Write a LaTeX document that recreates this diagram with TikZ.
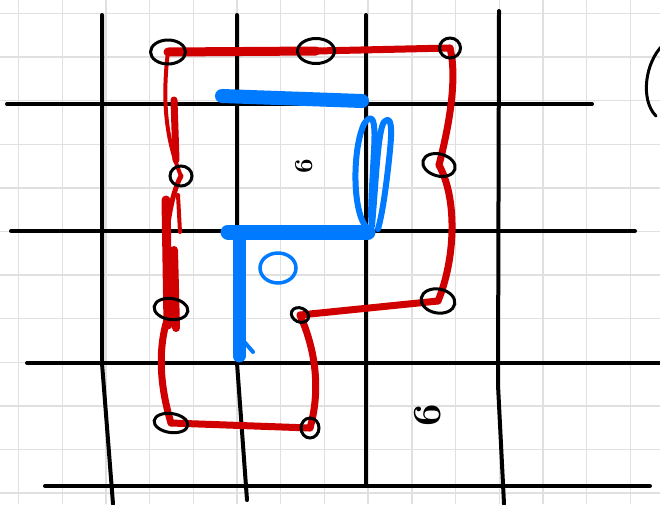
\documentclass[tikz,border=0pt]{standalone}
\usetikzlibrary{shapes.geometric}
\definecolor{penred}{RGB}{208,0,0}
\definecolor{penblue}{RGB}{0,122,255}
\definecolor{paper}{RGB}{224,224,224}
\begin{document}
\begin{tikzpicture}[x=1pt,y=-1pt,
  ring/.style={draw,ellipse,line width=3pt,inner sep=0pt},
  redpen/.style={penred,line width=7pt,line cap=round,line join=round},
  bluepen/.style={penblue,line width=13pt,line cap=round,line join=round},
  ink/.style={line width=4pt,line cap=round,line join=round}]
\useasboundingbox[fill=white] (0,0) rectangle (660,504);
% squared paper
\foreach \i in {0,...,14}
  \draw[paper,line width=1.4pt] ({18.5+43.7*\i},0) -- ++(0,504);
\foreach \j in {0,...,11}
  \draw[paper,line width=1.4pt] (0,{13.5+43.6*\j}) -- ++(660,0);
% hand drawn grid
\draw[ink] (102,15) -- (102,363) -- (113,504);
\draw[ink] (237,15) -- (237,363) -- (247,500);
\draw[ink] (366,15) -- (366,486);
\draw[ink] (499,11) -- (498,385) -- (504,504);
\draw[ink] (7,104) -- (592,104);
\draw[ink] (11,231) -- (635,231);
\draw[ink] (27,363) -- (664,363);
\draw[ink] (45,486) -- (650,486);
\draw[ink,line width=3pt] (663,45) .. controls (645,62) and (640,100) .. (656,116);
% loop points
\coordinate (tl) at (168,52);
\coordinate (tm) at (316,51);
\coordinate (tr) at (450,48);
\coordinate (rm) at (439,165);
\coordinate (rl) at (438,301);
\coordinate (ml) at (300,315);
\coordinate (bm) at (310,428);
\coordinate (bl) at (171,423);
\coordinate (lm) at (171,309);
\coordinate (lu) at (181,176);
% red route
\draw[redpen,line width=9pt] (tl) -- (tm);
\draw[redpen] (tm) -- (tr);
\draw[redpen] (tr) .. controls (458,80) and (448,130) .. (rm);
\draw[redpen] (rm) .. controls (458,200) and (455,260) .. (rl);
\draw[redpen] (rl) -- (ml);
\draw[redpen] (ml) .. controls (320,360) and (318,400) .. (bm);
\draw[redpen] (bm) -- (bl);
\draw[redpen] (bl) .. controls (158,380) and (158,340) .. (lm);
\draw[redpen,line width=5pt] (lm) .. controls (160,260) and (168,200) .. (lu);
\draw[redpen,line width=9pt] (166,200) -- (168,325);
\draw[redpen,line width=8pt] (174,250) -- (176,328);
\draw[redpen,line width=4pt] (178,195) -- (180,232);
\draw[redpen,line width=4pt] (lu) .. controls (166,140) and (162,100) .. (tl);
\draw[redpen,line width=7pt] (174,100) -- (176,160);
% blue strokes
\draw[bluepen,line width=14pt] (222,96) -- (362,101);
\draw[bluepen,line width=6pt] (368,229) .. controls (352,215) and (352,150) .. (364,124)
  .. controls (372,112) and (376,118) .. (374,150) .. controls (372,190) and (370,215) .. (372,226)
  .. controls (376,180) and (378,130) .. (384,122) .. controls (392,114) and (392,130) .. (390,150)
  .. controls (386,190) and (382,215) .. (378,229);
\draw[bluepen,line width=15pt] (228,232) -- (368,232);
\draw[bluepen] (239,232) -- (239,356);
\draw[bluepen,line width=4pt] (241,338) -- (253,352);
\draw[penblue,line width=3.5pt] (278,268) ellipse[x radius=18,y radius=15];
% loops
\foreach \p/\w/\h/\a in {tl/35/24/0,tm/37/25/0,tr/21/20/0,rm/33/22/-15,rl/34/24/-10,
    ml/18/14/-25,bm/18/20/0,bl/34/19/-8,lm/34/21/-8,lu/22/20/0}
  \node[ring,minimum width=\w,minimum height=\h,rotate=\a] (\p o) at (\p) {};
% digits
\node[rotate=90,font=\bfseries\fontsize{26}{26}\selectfont] (sixa) at (304,166) {6};
\node[rotate=90,font=\bfseries\fontsize{40}{40}\selectfont] (sixb) at (428,415) {6};
\end{tikzpicture}
\end{document}
